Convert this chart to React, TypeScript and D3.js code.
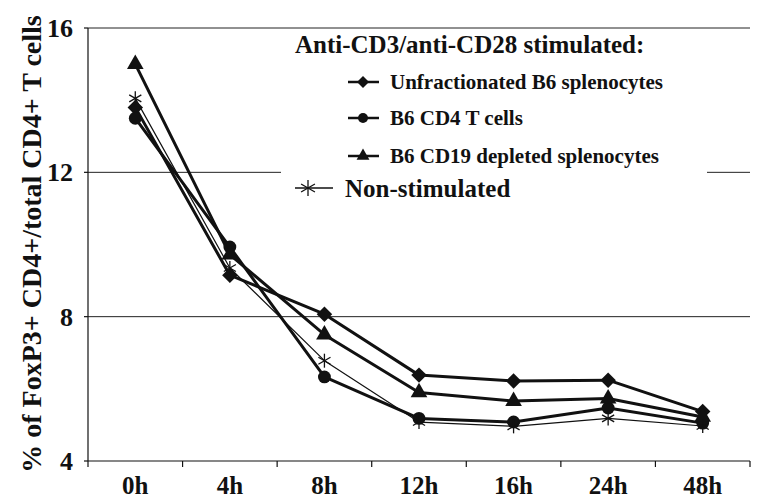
import React from 'react';
import * as d3 from 'd3';

const timepoints = ['0h', '4h', '8h', '12h', '16h', '24h', '48h'];
const unfractionated = [13.8, 9.15, 8.07, 6.38, 6.22, 6.24, 5.37];
const cd4TCells = [13.5, 9.93, 6.33, 5.18, 5.08, 5.47, 5.05];
const cd19Depleted = [15.0, 9.72, 7.5, 5.9, 5.66, 5.73, 5.22];
const nonStimulated = [14.05, 9.35, 6.78, 5.08, 4.96, 5.18, 4.97];
const yTicks = [4, 8, 12, 16];
const gridValues = [8, 12, 16];

const serif = '"Liberation Serif", "Times New Roman", serif';

type Marker = 'diamond' | 'circle' | 'triangle' | 'star';

// diamond is a square turned 45deg, like the spreadsheet marker
const markerPath = (m: Marker, size: number) => {
  if (m === 'diamond') return d3.symbol(d3.symbolSquare, size)() as string;
  if (m === 'circle') return d3.symbol(d3.symbolCircle, size)() as string;
  if (m === 'triangle') return d3.symbol(d3.symbolTriangle, size)() as string;
  return '';
};

const Star = ({ x, y, r }: { x: number; y: number; r: number }) => {
  const spokes = [0, 60, 120];
  return (
    <g stroke="#111" strokeWidth={1.3}>
      {spokes.map(a => {
        const rad = ((a + 90) * Math.PI) / 180;
        return (
          <line
            key={a}
            x1={x - r * Math.cos(rad)}
            y1={y - r * Math.sin(rad)}
            x2={x + r * Math.cos(rad)}
            y2={y + r * Math.sin(rad)}
          />
        );
      })}
    </g>
  );
};

const App = () => {
  const width = 762;
  const height = 503;
  const left = 88;
  const right = 750;
  const top = 28;
  const bottom = 461;

  const x = d3.scaleBand<string>().domain(timepoints).range([left, right]).padding(0);
  const y = d3.scaleLinear().domain([4, 16]).range([bottom, top]);
  const cx = (t: string) => (x(t) as number) + x.bandwidth() / 2;

  const line = d3
    .line<number>()
    .x((_, i) => cx(timepoints[i]))
    .y(d => y(d));

  const series: { name: string; values: number[]; marker: Marker; sw: number; size: number }[] = [
    { name: 'Unfractionated B6 splenocytes', values: unfractionated, marker: 'diamond', sw: 3, size: 120 },
    { name: 'B6 CD4 T cells', values: cd4TCells, marker: 'circle', sw: 3, size: 130 },
    { name: 'B6 CD19 depleted splenocytes', values: cd19Depleted, marker: 'triangle', sw: 3, size: 120 },
    { name: 'Non-stimulated', values: nonStimulated, marker: 'star', sw: 1.2, size: 0 },
  ];

  const rot = (m: Marker) => (m === 'diamond' ? ' rotate(45)' : '');
  const xTicks = [...timepoints.map(t => x(t) as number), right];

  return (
    <svg
      width={width}
      height={height}
      style={{ position: 'absolute', left: 0, top: 0, background: '#fff' }}
      fontFamily={serif}
    >
      {/* grid */}
      {gridValues.map(v => (
        <line key={v} x1={left} x2={right} y1={y(v)} y2={y(v)} stroke="#222" strokeWidth={1} />
      ))}

      {/* axes */}
      <line x1={left} x2={left} y1={top} y2={bottom} stroke="#111" strokeWidth={1.2} />
      <line x1={left} x2={right} y1={bottom} y2={bottom} stroke="#111" strokeWidth={1.2} />
      {yTicks.map(v => (
        <g key={v}>
          <line x1={left - 4} x2={left} y1={y(v)} y2={y(v)} stroke="#111" strokeWidth={1.2} />
          <text x={73} y={y(v) + 9} textAnchor="end" fontSize={26} fontWeight="bold" fill="#111">
            {v}
          </text>
        </g>
      ))}
      {xTicks.map((px, i) => (
        <line key={i} x1={px} x2={px} y1={bottom} y2={bottom + 6} stroke="#111" strokeWidth={1.2} />
      ))}
      {timepoints.map(t => (
        <text key={t} x={cx(t)} y={494} textAnchor="middle" fontSize={25} fontWeight="bold" fill="#111">
          {t}
        </text>
      ))}
      <text
        transform={`translate(41, 244) rotate(-90)`}
        textAnchor="middle"
        fontSize={28}
        fontWeight="bold"
        fill="#111"
      >
        % of FoxP3+ CD4+/total CD4+ T cells
      </text>

      {/* legend box */}
      <rect x={281} y={31} width={426} height={172} fill="#fff" />

      {/* series */}
      {series.map(s => (
        <g key={s.name}>
          <path d={line(s.values) as string} fill="none" stroke="#111" strokeWidth={s.sw} strokeLinejoin="round" />
          {s.values.map((v, i) =>
            s.marker === 'star' ? (
              <Star key={i} x={cx(timepoints[i])} y={y(v)} r={7} />
            ) : (
              <path
                key={i}
                d={markerPath(s.marker, s.size)}
                transform={`translate(${cx(timepoints[i])},${y(v)})${rot(s.marker)}`}
                fill="#111"
              />
            )
          )}
        </g>
      ))}

      {/* legend */}
      <text x={295} y={53} fontSize={25} fontWeight="bold" fill="#111">
        Anti-CD3/anti-CD28 stimulated:
      </text>
      {series.slice(0, 3).map((s, i) => {
        const ly = [82, 118, 156][i];
        return (
          <g key={s.name}>
            <line x1={348} x2={379} y1={ly} y2={ly} stroke="#111" strokeWidth={2.5} />
            <path
              d={markerPath(s.marker, s.size * 0.6)}
              transform={`translate(363,${ly})${rot(s.marker)}`}
              fill="#111"
            />
            <text x={390} y={ly + 7} fontSize={21} fontWeight="bold" fill="#111">
              {s.name}
            </text>
          </g>
        );
      })}
      <line x1={295} x2={333} y1={188} y2={188} stroke="#111" strokeWidth={1.5} />
      <Star x={308} y={188} r={8} />
      <text x={345} y={197} fontSize={25} fontWeight="bold" fill="#111">
        Non-stimulated
      </text>
    </svg>
  );
};

export default App;
